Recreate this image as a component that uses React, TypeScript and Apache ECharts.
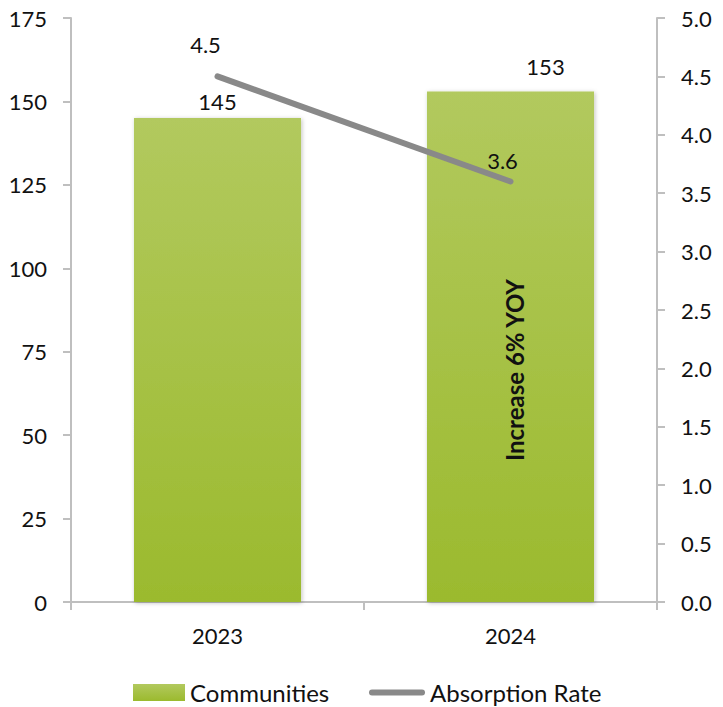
import React, { useEffect, useRef } from "react";
import * as echarts from "echarts";

const categories = ["2023", "2024"];
const communities = [145, 153];
const absorptionRate = [4.5, 3.6];
const leftTicks = { min: 0, max: 175, interval: 25 };
const rightTicks = { min: 0, max: 5, interval: 0.5 };
const annotation = "Increase 6% YOY";

const FONT = "Lato, 'Open Sans', sans-serif";
const TXT = "#111111";
const AXIS = "#BFBFBF";

export default function App() {
  const ref = useRef<HTMLDivElement>(null);
  useEffect(() => {
    document.body.style.margin = "0";
    const chart = echarts.init(ref.current!, null, { renderer: "svg" });
    chart.setOption({
      animation: false,
      textStyle: { fontFamily: FONT },
      grid: { left: 71, right: 66, top: 18, bottom: 105, outerBoundsMode: "none", containLabel: false },
      legend: [
        {
          data: [{ name: "Communities", icon: "rect" }],
          left: 133,
          top: 680,
          padding: 0,
          itemWidth: 52,
          itemHeight: 17,
          textStyle: { fontFamily: FONT, fontSize: 24, color: TXT, lineHeight: 25 },
        },
        {
          data: [{ name: "Absorption Rate", icon: "path://M3,0 L53,0 A3,3 0 0 1 53,6 L3,6 A3,3 0 0 1 3,0 Z" }],
          left: 369,
          top: 680,
          padding: 0,
          itemWidth: 56,
          itemHeight: 6,
          textStyle: { fontFamily: FONT, fontSize: 24, color: TXT, lineHeight: 25 },
        },
      ],
      xAxis: {
        type: "category",
        data: categories,
        axisLine: { lineStyle: { color: AXIS, width: 2 } },
        axisTick: { show: true, length: 8, lineStyle: { color: AXIS, width: 2 } },
        axisLabel: { fontFamily: FONT, fontSize: 22, color: TXT, margin: 22 },
        splitLine: { show: false },
      },
      yAxis: [
        {
          type: "value",
          ...leftTicks,
          axisLine: { show: true, lineStyle: { color: AXIS, width: 2 } },
          axisTick: { show: true, length: 8, lineStyle: { color: AXIS, width: 2 } },
          axisLabel: { fontFamily: FONT, fontSize: 22, color: TXT, margin: 24 },
          splitLine: { show: false },
        },
        {
          type: "value",
          position: "right",
          ...rightTicks,
          axisLine: { show: true, lineStyle: { color: AXIS, width: 2 } },
          axisTick: { show: true, length: 8, lineStyle: { color: AXIS, width: 2 } },
          axisLabel: {
            fontFamily: FONT,
            fontSize: 22,
            color: TXT,
            margin: 24,
            formatter: (v: number) => v.toFixed(1),
          },
          splitLine: { show: false },
        },
      ],
      series: [
        {
          name: "Communities",
          type: "bar",
          barWidth: "57%",
          data: communities.map((v, i) => ({
            value: v,
            label: i === 1 ? { offset: [35, -10] } : { offset: [0, -2] },
          })),
          itemStyle: {
            color: new echarts.graphic.LinearGradient(0, 0, 0, 1, [
              { offset: 0, color: "#B2C95E" },
              { offset: 1, color: "#9BBA2E" },
            ]),
            shadowBlur: 4,
            shadowColor: "rgba(0,0,0,0.25)",
            shadowOffsetX: 1,
            shadowOffsetY: 1,
          },
          label: {
            show: true,
            position: "top",
            distance: 4,
            fontFamily: FONT,
            fontSize: 22,
            color: TXT,
          },
          z: 2,
        },
        {
          name: "Absorption Rate",
          type: "line",
          yAxisIndex: 1,
          data: absorptionRate.map((v, i) => ({
            value: v,
            label: i === 0 ? { offset: [-12, -8] } : { offset: [-8, 2] },
          })),
          symbol: "circle",
          symbolSize: 1,
          showSymbol: true,
          lineStyle: { color: "#898989", width: 6, cap: "round" },
          itemStyle: { color: "#898989" },
          label: {
            show: true,
            position: "top",
            distance: 12,
            fontFamily: FONT,
            fontSize: 22,
            color: TXT,
            formatter: (p: any) => Number(p.value).toFixed(1),
          },
          z: 3,
        },
      ],
    });

    const [px] = chart.convertToPixel({ xAxisIndex: 0, yAxisIndex: 0 }, [1, 0]) as number[];
    const [, py] = chart.convertToPixel({ xAxisIndex: 0, yAxisIndex: 0 }, [1, 69.5]) as number[];
    chart.setOption({
      graphic: [
        {
          type: "text",
          x: px + 4,
          y: py,
          rotation: Math.PI / 2,
          style: {
            text: annotation,
            font: `bold 24px ${FONT}`,
            fill: TXT,
            align: "center",
            verticalAlign: "middle",
          },
          z: 10,
        },
      ],
    });
    return () => chart.dispose();
  }, []);
  return <div ref={ref} style={{ width: 723, height: 707 }} />;
}
